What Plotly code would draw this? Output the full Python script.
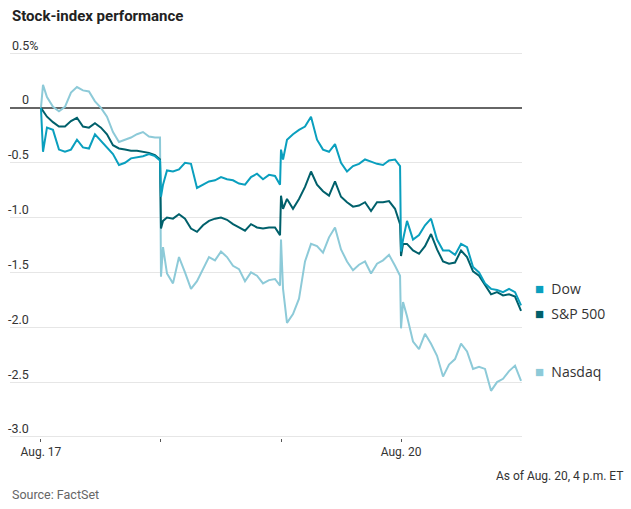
import plotly.graph_objects as go

# Time in trading days since Aug. 17 open (0 = Aug. 17 open, 4 = Aug. 20 close)
times = [
    0.000, 0.017, 0.050, 0.100, 0.150, 0.200, 0.250, 0.300, 0.350, 0.400, 0.450,
    0.500, 0.550, 0.600, 0.650, 0.700, 0.750, 0.800, 0.850, 0.900, 0.950, 0.992,
    1.000, 1.017, 1.050, 1.100, 1.150, 1.200, 1.250, 1.300, 1.350, 1.400, 1.450,
    1.500, 1.550, 1.600, 1.650, 1.700, 1.750, 1.800, 1.850, 1.900, 1.950, 1.992,
    2.000, 2.017, 2.050, 2.100, 2.150, 2.200, 2.250, 2.300, 2.350, 2.400, 2.450,
    2.500, 2.550, 2.600, 2.650, 2.700, 2.750, 2.800, 2.850, 2.900, 2.950, 2.992,
    3.000, 3.017, 3.050, 3.100, 3.150, 3.200, 3.250, 3.300, 3.350, 3.400, 3.450,
    3.500, 3.550, 3.600, 3.650, 3.700, 3.750, 3.800, 3.850, 3.900, 3.950, 4.000,
]

dow = [
    0.00, -0.40, -0.18, -0.20, -0.38, -0.40, -0.38, -0.29, -0.36, -0.37, -0.24,
    -0.30, -0.35, -0.42, -0.52, -0.50, -0.46, -0.45, -0.44, -0.42, -0.44, -0.48,
    -0.81, -0.70, -0.57, -0.58, -0.56, -0.50, -0.51, -0.73, -0.70, -0.67, -0.66,
    -0.63, -0.65, -0.66, -0.69, -0.70, -0.63, -0.60, -0.65, -0.61, -0.62, -0.70,
    -0.38, -0.47, -0.29, -0.24, -0.20, -0.17, -0.08, -0.29, -0.38, -0.40, -0.33,
    -0.50, -0.58, -0.53, -0.51, -0.47, -0.49, -0.51, -0.52, -0.48, -0.47, -0.53,
    -1.31, -1.20, -1.03, -1.20, -1.16, -1.07, -1.01, -1.20, -1.30, -1.30, -1.34,
    -1.24, -1.27, -1.45, -1.50, -1.60, -1.65, -1.66, -1.68, -1.65, -1.68, -1.80,
]

sp500 = [
    0.00, -0.03, -0.08, -0.13, -0.17, -0.17, -0.12, -0.09, -0.17, -0.18, -0.14,
    -0.18, -0.24, -0.34, -0.37, -0.38, -0.39, -0.39, -0.40, -0.41, -0.43, -0.47,
    -1.10, -1.03, -1.00, -1.01, -0.97, -1.01, -1.10, -1.13, -1.07, -1.03, -1.01,
    -1.00, -1.02, -1.06, -1.09, -1.12, -1.06, -1.09, -1.10, -1.09, -1.09, -1.16,
    -0.80, -0.92, -0.83, -0.92, -0.83, -0.72, -0.58, -0.70, -0.76, -0.80, -0.67,
    -0.81, -0.86, -0.90, -0.89, -0.86, -0.94, -0.86, -0.86, -0.85, -0.92, -1.06,
    -1.35, -1.24, -1.24, -1.30, -1.33, -1.26, -1.15, -1.29, -1.40, -1.42, -1.41,
    -1.30, -1.36, -1.49, -1.53, -1.61, -1.70, -1.68, -1.71, -1.70, -1.72, -1.85,
]

nasdaq = [
    0.00, 0.21, 0.10, 0.01, -0.03, 0.01, 0.14, 0.19, 0.16, 0.15, 0.06,
    0.00, -0.08, -0.22, -0.31, -0.29, -0.27, -0.24, -0.22, -0.26, -0.27, -0.27,
    -1.54, -1.27, -1.51, -1.60, -1.36, -1.50, -1.65, -1.58, -1.47, -1.36, -1.39,
    -1.31, -1.36, -1.44, -1.47, -1.58, -1.50, -1.53, -1.60, -1.57, -1.56, -1.62,
    -1.20, -1.65, -1.96, -1.88, -1.74, -1.40, -1.24, -1.26, -1.32, -1.18, -1.09,
    -1.29, -1.40, -1.48, -1.43, -1.40, -1.51, -1.42, -1.39, -1.34, -1.44, -1.53,
    -2.01, -1.77, -1.90, -2.13, -2.20, -2.06, -2.15, -2.26, -2.45, -2.34, -2.29,
    -2.15, -2.22, -2.38, -2.36, -2.38, -2.58, -2.50, -2.47, -2.40, -2.35, -2.49,
]

series_names = ["Nasdaq", "S&P 500", "Dow"]
series_values = [nasdaq, sp500, dow]
series_colors = ["#8dcad8", "#00606b", "#0a9fbe"]

y_tick_values = [0.5, 0, -0.5, -1.0, -1.5, -2.0, -2.5, -3.0]
y_tick_labels = ["0.5%", "0", "-0.5", "-1.0", "-1.5", "-2.0", "-2.5", "-3.0"]
x_tick_values = [0, 1, 2, 3]
x_tick_labels = ["Aug. 17", "", "", "Aug. 20"]

legend_names = ["Dow", "S&P 500", "Nasdaq"]
legend_colors = ["#0a9fbe", "#00606b", "#8dcad8"]
legend_anchor_y = [-1.64, -1.87, -2.40]

fig = go.Figure()
for name, vals, col in zip(series_names, series_values, series_colors):
    fig.add_trace(go.Scatter(
        x=times, y=vals, mode="lines", name=name,
        line=dict(color=col, width=2), showlegend=False, hoverinfo="skip",
    ))

narrow = "Liberation Sans Narrow, Roboto, sans-serif"

annotations = []
for v, lab in zip(y_tick_values, y_tick_labels):
    annotations.append(dict(
        x=0.0, xref="paper", y=v, yref="y", text=lab, showarrow=False,
        xanchor="right", yanchor="middle", yshift=8,
        xshift=(31 if "%" in lab else 21),
        font=dict(family=narrow, size=12.5, color="#333333"),
    ))

for name, col, ly in zip(legend_names, legend_colors, legend_anchor_y):
    annotations.append(dict(
        x=1.0, xref="paper", y=ly, yref="y", showarrow=False,
        xanchor="left", yanchor="middle", xshift=11,
        text='<span style="color:%s;font-size:15px">■</span>&nbsp;&nbsp;%s' % (col, name),
        font=dict(family="Open Sans, Noto Sans, sans-serif", size=14, color="#333333"),
    ))

annotations.append(dict(
    x=0.0, xref="paper", y=1, yref="paper", yshift=36, text="<b>Stock-index performance</b>",
    showarrow=False, xanchor="left", yanchor="middle",
    font=dict(family="Roboto, sans-serif", size=15, color="#222222"),
))
annotations.append(dict(
    x=1.0, xref="paper", y=0, yref="paper", yshift=-38, xshift=103,
    text="As of Aug. 20, 4 p.m. ET", showarrow=False, xanchor="right", yanchor="middle",
    font=dict(family=narrow, size=12, color="#333333"),
))
annotations.append(dict(
    x=0.0, xref="paper", y=0, yref="paper", yshift=-56,
    text="Source: FactSet", showarrow=False, xanchor="left", yanchor="middle",
    font=dict(family=narrow, size=12.5, color="#666666"),
))

fig.update_layout(
    width=631, height=509,
    margin=dict(l=10, r=109, t=52, b=71),
    paper_bgcolor="white", plot_bgcolor="white",
    annotations=annotations,
    hovermode=False,
    xaxis=dict(
        range=[-0.258, 4.008], tickvals=x_tick_values, ticktext=x_tick_labels,
        showgrid=False, zeroline=False, ticks="outside", ticklen=3, tickwidth=1,
        tickcolor="#555555", showline=False, fixedrange=True,
        tickfont=dict(family=narrow, size=12, color="#333333"),
    ),
    yaxis=dict(
        range=[-3.01, 0.51], tickvals=y_tick_values, showticklabels=False,
        showgrid=True, gridcolor="#e6e6e6", gridwidth=1,
        zeroline=True, zerolinecolor="#666666", zerolinewidth=1.2,
        showline=False, ticks="", fixedrange=True,
    ),
    font=dict(family="Roboto, sans-serif"),
)

fig.write_html(
    "out.html",
    config={"displayModeBar": False, "staticPlot": True},
    post_script="document.body.style.margin='0px';document.body.style.overflow='hidden';",
)
